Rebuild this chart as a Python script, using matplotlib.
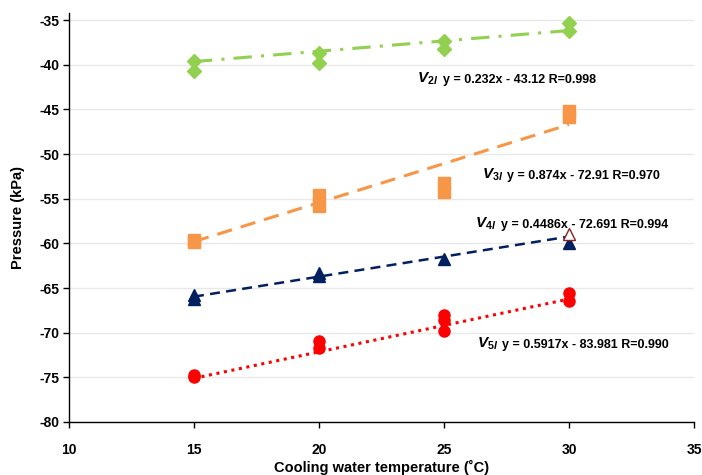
import matplotlib
matplotlib.use('Agg')
import matplotlib.pyplot as plt
import numpy as np

plt.rcParams['font.family'] = ['Liberation Sans', 'DejaVu Sans']
plt.rcParams['mathtext.fontset'] = 'custom'
plt.rcParams['mathtext.it'] = 'Liberation Sans:bold:italic'
plt.rcParams['mathtext.rm'] = 'Liberation Sans:bold'
plt.rcParams['axes.unicode_minus'] = False

# measured points (temperature, pressure)
v2_x = [15, 15, 20, 20, 25, 25, 30, 30]
v2_y = [-39.6, -40.7, -38.7, -39.8, -37.3, -38.2, -35.3, -36.2]
v3_x = [15, 15, 20, 20, 25, 25, 30, 30]
v3_y = [-59.6, -59.8, -54.6, -55.8, -53.2, -54.2, -45.2, -45.9]
v4_x = [15, 15, 20, 20, 25, 30]
v4_y = [-65.8, -66.2, -63.3, -63.7, -61.8, -59.9]
v4_open_x = [30]
v4_open_y = [-58.9]
v5_x = [15, 15, 20, 20, 25, 25, 25, 30, 30]
v5_y = [-74.7, -75.0, -70.9, -71.7, -68.0, -68.6, -69.8, -65.6, -66.4]

# fitted lines from the labels
slopes = [0.232, 0.874, 0.4486, 0.5917]
intercepts = [-43.12, -72.91, -72.691, -83.981]
series_names = [r'$V_{2l}$', r'$V_{3l}$', r'$V_{4l}$', r'$V_{5l}$']
fit_labels = [
    'y = 0.232x - 43.12 R=0.998',
    'y = 0.874x - 72.91 R=0.970',
    'y = 0.4486x - 72.691 R=0.994',
    'y = 0.5917x - 83.981 R=0.990',
]

fig = plt.figure(figsize=(7.02, 4.75), dpi=100)
ax = fig.add_axes([0.0983, 0.1116, 0.8903, 0.861])

green, orange, navy, red = '#92D050', '#F79646', '#002060', '#FF0000'
colors = [green, orange, navy, red]
styles = [(0, (6, 3, 1, 3)), (0, (5, 3)), (0, (4, 2.5)), (0, (1, 1.5))]

xf = np.array([15, 30])
for c, ls, m, b in zip(colors, styles, slopes, intercepts):
    ax.plot(xf, m * xf + b, color=c, lw=2.2 if c != navy else 1.8, ls=ls, zorder=2)

ax.plot(v2_x, v2_y, 'D', color=green, ms=7, zorder=3)
ax.plot(v3_x, v3_y, 's', color=orange, ms=8, zorder=3)
ax.plot(v4_x, v4_y, '^', color=navy, ms=8, zorder=3)
ax.plot(v4_open_x, v4_open_y, '^', mfc='white', mec='#8B2020', mew=1, ms=8, zorder=3)
ax.plot(v5_x, v5_y, 'o', color=red, ms=8, zorder=3)

# label positions in pixels: name x, equation x, common baseline y
name_x = [417, 482, 475, 477]
eq_x = [443, 507, 501, 502]
base_y = [83, 179, 228, 348]
for nx, ex, by, nm, lab in zip(name_x, eq_x, base_y, series_names, fit_labels):
    fig.text(nx / 702, 1 - by / 475, nm, fontsize=11, ha='left', va='baseline')
    fig.text(ex / 702, 1 - by / 475, lab, fontsize=9, fontweight='bold',
             ha='left', va='baseline')

ax.set_xlim(10, 35)
ax.set_ylim(-80, -34.2)
ax.set_xticks([10, 15, 20, 25, 30, 35])
ax.set_yticks(np.arange(-80, -34, 5))
ax.yaxis.grid(True, color='#E8E8E8', lw=1)
ax.set_axisbelow(True)
for s in ['top', 'right']:
    ax.spines[s].set_visible(False)
for s in ['left', 'bottom']:
    ax.spines[s].set_linewidth(1)
ax.tick_params(direction='out', length=4, width=1, labelsize=10, pad=3)
ax.tick_params(axis='x', pad=11)
for lab in ax.get_xticklabels() + ax.get_yticklabels():
    lab.set_fontweight('bold')

ax.set_xlabel('Cooling water temperature (˚C)', fontsize=10.5, fontweight='bold', labelpad=2)
ax.set_ylabel('Pressure (kPa)', fontsize=10.5, fontweight='bold', labelpad=10)

fig.savefig('out.png', dpi=100)
